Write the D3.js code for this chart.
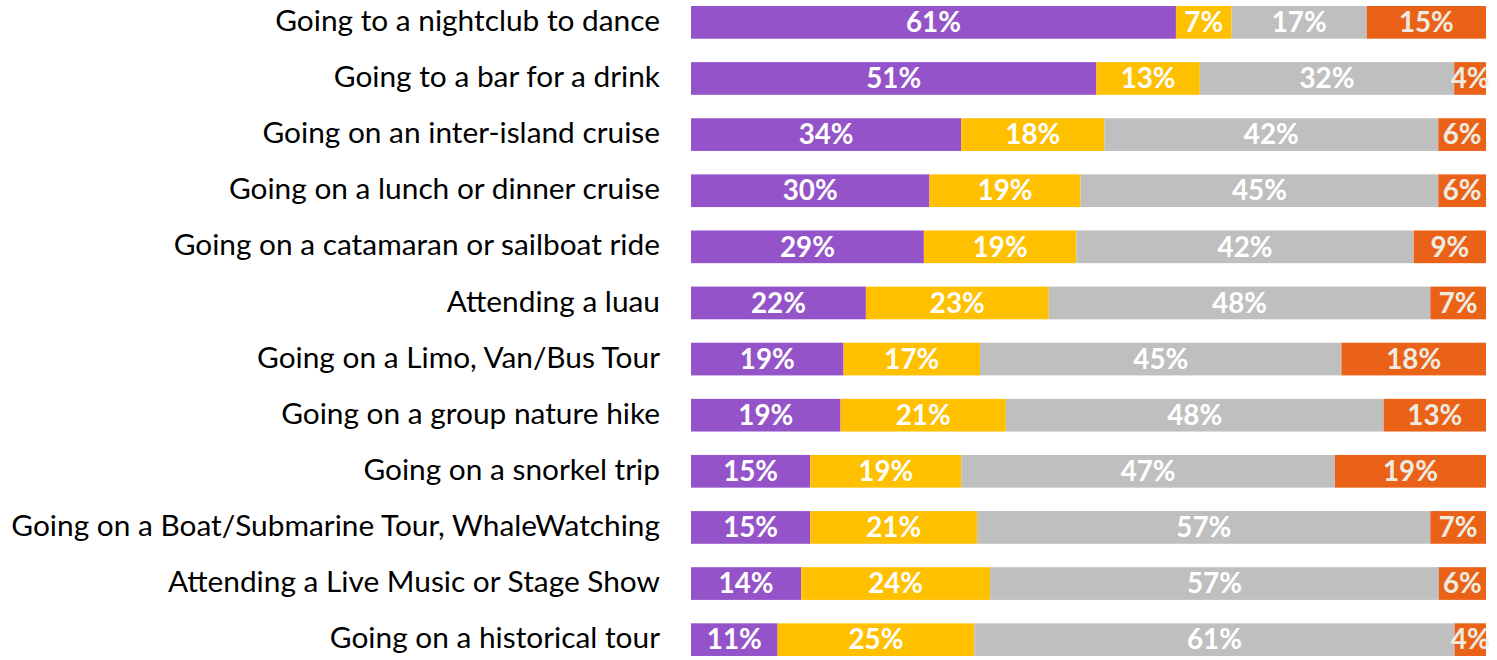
<!DOCTYPE html>
<html>
<head>
<meta charset="utf-8">
<script src="https://cdn.jsdelivr.net/npm/d3@7"></script>
<style>
  html, body { margin: 0; padding: 0; background: #fff; }
  svg { display: block; }
</style>
</head>
<body>
<svg id="chart" width="1497" height="660"></svg>
<script>
const categories = [
  "Going to a nightclub to dance",
  "Going to a bar for a drink",
  "Going on an inter-island cruise",
  "Going on a lunch or dinner cruise",
  "Going on a catamaran or sailboat ride",
  "Attending a luau",
  "Going on a Limo, Van/Bus Tour",
  "Going on a group nature hike",
  "Going on a snorkel trip",
  "Going on a Boat/Submarine Tour, WhaleWatching",
  "Attending a Live Music or Stage Show",
  "Going on a historical tour"
];
const seriesKeys = ["s1", "s2", "s3", "s4"];
const s1Values = [61, 51, 34, 30, 29, 22, 19, 19, 15, 15, 14, 11];
const s2Values = [7, 13, 18, 19, 19, 23, 17, 21, 19, 21, 24, 25];
const s3Values = [17, 32, 42, 45, 42, 48, 45, 48, 47, 57, 57, 61];
const s4Values = [15, 4, 6, 6, 9, 7, 18, 13, 19, 7, 6, 4];
const seriesColors = ["#9553C9", "#FFC000", "#BFBFBF", "#EA6218"];
const labelColors = ["#FFFFFF", "#FFFFFF", "#FFFFFF", "#EEECE1"];

const rows = categories.map((c, i) => ({
  cat: c, s1: s1Values[i], s2: s2Values[i], s3: s3Values[i], s4: s4Values[i]
}));

const svg = d3.select("#chart");
const catFont = "Lato, 'Open Sans', sans-serif";

const stack = d3.stack().keys(seriesKeys).offset(d3.stackOffsetExpand);
const stacked = stack(rows);

const x = d3.scaleLinear().domain([0, 1]).range([691, 1486]);
const step = 56.12, bw = 32.7;
const pIn = 1 - bw / step;
const y = d3.scaleBand().domain(categories)
  .range([6 - step * pIn / 2, 6 - step * pIn / 2 + categories.length * step])
  .paddingInner(pIn).paddingOuter(pIn / 2);

// measure helper for font fitting
function measure(text, size, weight) {
  const t = svg.append("text").attr("font-family", catFont)
    .attr("font-size", size).attr("font-weight", weight).text(text);
  const w = t.node().getComputedTextLength();
  t.remove();
  return w;
}
const longest = categories.reduce((a, b) => a.length > b.length ? a : b);
const catSize = 28 * 649 / measure(longest, 28, "normal");
const valSize = 28 * 55 / measure("61%", 28, "bold");

// bars
const g = svg.append("g");
stacked.forEach((layer, si) => {
  g.append("g").attr("fill", seriesColors[si])
    .selectAll("rect").data(layer).join("rect")
    .attr("x", d => x(d[0]))
    .attr("y", d => y(d.data.cat))
    .attr("width", d => x(d[1]) - x(d[0]))
    .attr("height", y.bandwidth());
});

// value labels
stacked.forEach((layer, si) => {
  g.append("g")
    .attr("font-family", catFont)
    .attr("font-weight", "bold")
    .attr("font-size", valSize)
    .attr("fill", labelColors[si])
    .attr("text-anchor", "middle")
    .selectAll("text").data(layer).join("text")
    .attr("x", d => (x(d[0]) + x(d[1])) / 2)
    .attr("y", d => y(d.data.cat) + y.bandwidth() / 2)
    .attr("dy", "0.35em")
    .text(d => d.data[layer.key] + "%");
});

// category axis
const axis = d3.axisLeft(y).tickSize(0).tickPadding(0);
const ax = svg.append("g").attr("transform", "translate(660,0)").call(axis);
ax.select(".domain").remove();
ax.selectAll("text")
  .attr("font-family", catFont)
  .attr("font-size", catSize)
  .attr("fill", "#000")
  .attr("dy", "0.29em");
</script>
</body>
</html>
